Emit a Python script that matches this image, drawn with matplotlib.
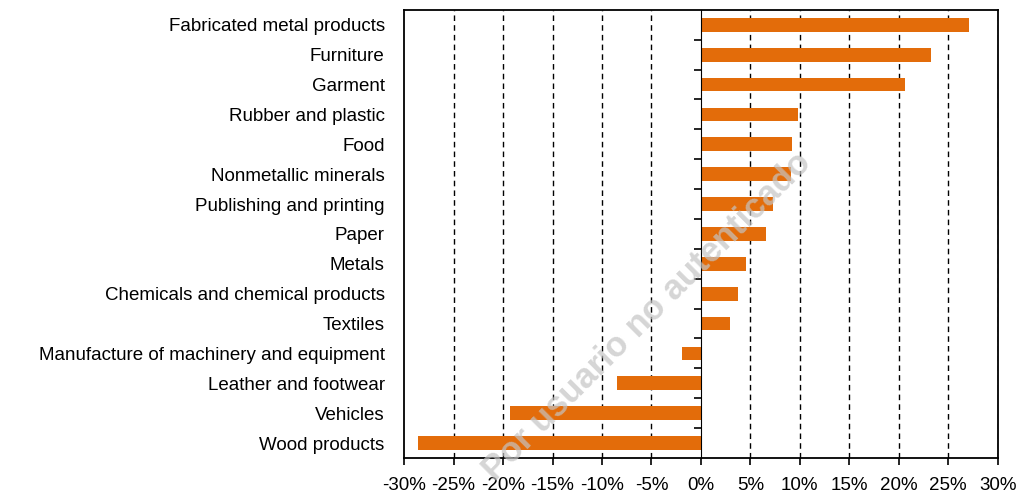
import matplotlib
matplotlib.use('Agg')
import matplotlib.pyplot as plt
from matplotlib.ticker import FuncFormatter

plt.rcParams['font.family'] = ['Liberation Sans', 'DejaVu Sans']

# data, top to bottom as in the chart
sectors = ['Fabricated metal products', 'Furniture', 'Garment', 'Rubber and plastic',
           'Food', 'Nonmetallic minerals', 'Publishing and printing', 'Paper', 'Metals',
           'Chemicals and chemical products', 'Textiles',
           'Manufacture of machinery and equipment', 'Leather and footwear',
           'Vehicles', 'Wood products']
change = [27.1, 23.3, 20.6, 9.8, 9.2, 9.1, 7.3, 6.6, 4.6, 3.8, 2.9,
          -1.9, -8.5, -19.3, -28.6]

fig = plt.figure(figsize=(10.18, 4.94), dpi=100)
ax = fig.add_axes([0.397, 0.073, 0.583, 0.907])

n = len(sectors)
ypos = list(range(n))[::-1]
ax.barh(ypos, change, height=0.46, color='#e36c0a', zorder=3)

ax.set_xlim(-30, 30)
ax.set_ylim(-0.5, n - 0.5)
ax.set_xticks(range(-30, 31, 5))
ax.xaxis.set_major_formatter(FuncFormatter(lambda v, p: f'{v:.0f}%'))
ax.tick_params(axis='x', direction='out', length=5, width=1.2, labelsize=13.5, pad=8.5)

ax.set_yticks(ypos)
ax.set_yticklabels(sectors)
ax.tick_params(axis='y', length=0, labelsize=13.5, pad=14)

for v in range(-25, 31, 5):
    if v != 0:
        ax.axvline(v, color='black', ls=(0, (4, 3)), lw=1, zorder=1)

for s in ax.spines.values():
    s.set_linewidth(1.3)

# zero axis with category separator ticks
zero_ax = ax.secondary_yaxis(0.5)
zero_ax.set_yticks([i + 0.5 for i in range(n - 1)])
zero_ax.set_yticklabels([])
zero_ax.tick_params(length=5, width=1.2, direction='in')
zero_ax.spines['left'].set_linewidth(1.6)
zero_ax.set_zorder(4)

fig.text(0.636, 0.36, 'Por usuario no autenticado', rotation=45, fontsize=25,
         fontweight='bold', color='#c4c4c4', alpha=0.7, ha='center', va='center',
         zorder=10)

fig.savefig('out.png', dpi=100)
